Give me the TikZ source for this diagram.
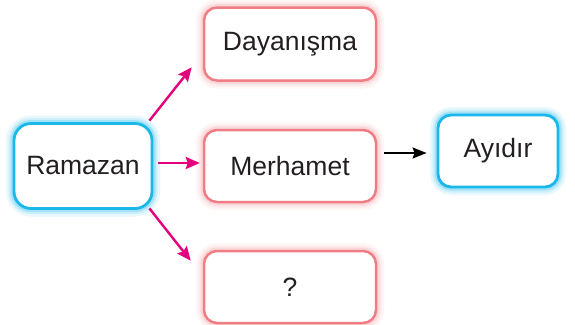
\documentclass[tikz,border=0pt]{standalone}
\usepackage{fontspec}
\setmainfont{Liberation Sans}
\usetikzlibrary{arrows.meta}
\definecolor{cyanb}{HTML}{1AB7EA}
\definecolor{pinkb}{HTML}{F07C84}
\definecolor{mag}{HTML}{E5007D}
\definecolor{txt}{HTML}{231F20}
\begin{document}
\begin{tikzpicture}[x=1pt,y=-1pt,
  base/.style={rectangle, fill=white, align=center, text=txt,
    font=\fontsize{26.5}{30}\selectfont, inner sep=0pt},
  bluebox/.style={base, draw=cyanb, line width=2.8pt, rounded corners=17pt,
    preaction={draw=cyanb!10, line width=16pt},
    preaction={draw=cyanb!22, line width=11pt},
    preaction={draw=cyanb!40, line width=7pt}},
  pinkbox/.style={base, draw=pinkb, line width=2.5pt, rounded corners=13pt,
    preaction={draw=pinkb!8, line width=16pt},
    preaction={draw=pinkb!16, line width=11pt},
    preaction={draw=pinkb!30, line width=7pt}},
  magarrow/.style={draw=mag, line width=2.4pt, -{Stealth[length=14pt,width=12pt,inset=2pt]}},
  blackarrow/.style={draw=black, line width=2pt, -{Stealth[length=14pt,width=11pt,inset=2pt]}}
]
\useasboundingbox (0,0) rectangle (575,324);
\fill[white] (0,0) rectangle (575,324);

\node[bluebox, minimum width=138pt, minimum height=85pt] (ram) at (83,166) {Ramazan};
\node[pinkbox, minimum width=172pt, minimum height=73pt] (day) at (290,44) {Dayanışma};
\node[pinkbox, minimum width=172pt, minimum height=72pt] (mer) at (290,166) {Merhamet};
\node[pinkbox, minimum width=172pt, minimum height=72pt] (q) at (290,287) {?};
\node[bluebox, rounded corners=13pt, minimum width=120pt, minimum height=72pt] (ayi) at (498,151) {Ayıdır};

\draw[magarrow] ([shift={(-4,-1.5)}]ram.north east) -- ([shift={(-11,-14.5)}]day.south west);
\draw[magarrow] ([shift={(5,-3)}]ram.east) -- ([shift={(-3,-3)}]mer.west);
\draw[magarrow] ([shift={(-4,-1.5)}]ram.south east) -- ([shift={(-12,11)}]q.north west);
\draw[blackarrow] ([shift={(7,-13)}]mer.east) -- ([shift={(-10,2)}]ayi.west);
\end{tikzpicture}
\end{document}
